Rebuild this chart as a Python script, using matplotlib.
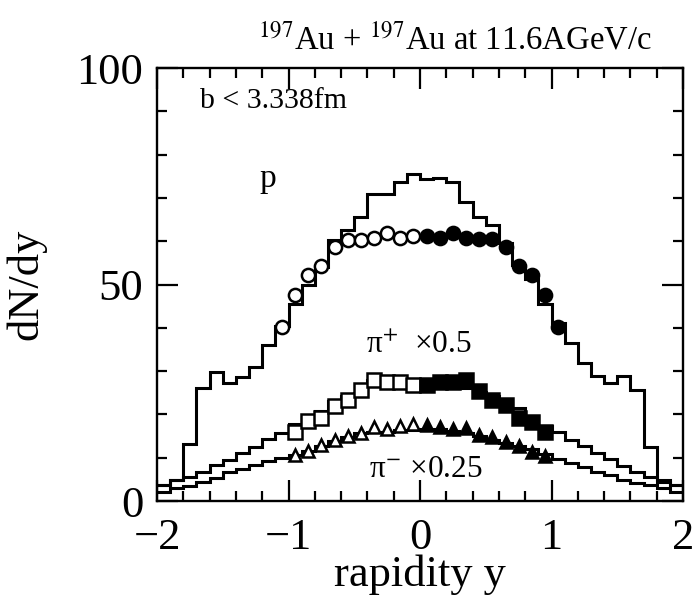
import numpy as np
import matplotlib
matplotlib.use("Agg")
import matplotlib.pyplot as plt

plt.rcParams['font.family'] = ['Liberation Serif', 'DejaVu Serif']
plt.rcParams['mathtext.fontset'] = 'stix'

# bin edges of the model histograms
edges = np.round(np.arange(-2.0, 2.0001, 0.1), 2)

# model (histograms), one value per bin from y=-2 to y=2
proton_model = [3.7, 4.8, 13.1, 26.0, 29.8, 27.3, 28.6, 30.9, 36.0, 40.5,
                45.4, 49.8, 54.0, 60.4, 62.6, 65.7, 70.8, 70.8, 73.7, 75.6,
                74.3, 74.5, 73.6, 69.0, 65.7, 63.8, 59.6, 54.6, 51.3, 45.5,
                41.1, 36.6, 31.9, 28.9, 27.3, 28.8, 25.7, 12.5, 4.8, 3.7]
pip_model = [3.7, 4.8, 5.6, 6.8, 8.3, 9.4, 11.1, 12.5, 14.4, 15.7,
             17.7, 19.2, 20.8, 23.0, 24.2, 25.0, 28.0, 27.8, 27.6, 27.3,
             27.3, 27.2, 27.2, 26.0, 25.2, 24.3, 22.6, 21.4, 19.4, 17.3,
             16.0, 14.1, 12.7, 11.1, 9.6, 8.1, 6.8, 5.5, 4.4, 3.7]
pim_model = [2.1, 2.9, 3.4, 4.5, 5.4, 6.6, 7.3, 8.4, 9.3, 10.0,
             10.6, 11.6, 12.8, 13.9, 14.8, 15.6, 16.0, 16.0, 16.5, 16.5,
             16.7, 16.7, 16.1, 15.6, 15.0, 14.2, 13.4, 12.8, 12.0, 10.8,
             9.8, 8.7, 7.8, 6.8, 6.0, 4.8, 4.2, 3.7, 2.9, 2.1]

# data points: open = measured (y<0), filled = reflected (y>0)
p_y_open = [-1.05, -0.95, -0.85, -0.75, -0.65, -0.55, -0.45, -0.35, -0.25, -0.15, -0.05]
p_open = [40.3, 47.6, 52.3, 54.2, 58.6, 60.4, 60.4, 60.8, 61.8, 60.7, 61.2]
p_y_fill = [0.05, 0.15, 0.25, 0.35, 0.45, 0.55, 0.65, 0.75, 0.85, 0.95, 1.05]
p_fill = [61.2, 60.7, 61.9, 60.8, 60.5, 60.5, 58.6, 54.2, 52.2, 47.5, 40.3]

pi_y_open = [-0.95, -0.85, -0.75, -0.65, -0.55, -0.45, -0.35, -0.25, -0.15, -0.05]
pi_y_fill = [0.05, 0.15, 0.25, 0.35, 0.45, 0.55, 0.65, 0.75, 0.85, 0.95]
pip_open = [16.0, 18.4, 19.2, 21.9, 23.3, 25.6, 27.9, 27.5, 27.5, 26.7]
pip_fill = [26.9, 27.6, 27.5, 27.9, 25.5, 23.4, 22.1, 19.1, 18.3, 15.9]
pim_open = [10.7, 11.5, 13.0, 14.0, 15.0, 15.8, 17.2, 16.6, 17.4, 17.9]
pim_fill = [17.5, 17.0, 16.6, 16.9, 15.2, 14.8, 13.6, 12.7, 11.4, 10.5]

fig = plt.figure(figsize=(6.97, 5.97), dpi=100)
ax = fig.add_axes([0.2253, 0.1608, 0.7547, 0.7252])

lw = 2.2
for vals in (proton_model, pip_model, pim_model):
    ax.stairs(vals, edges, color='black', linewidth=lw, baseline=None)

ms = 9.5
mew = 1.8
ax.plot(p_y_open, p_open, 'o', ms=ms, mfc='white', mec='black', mew=mew)
ax.plot(p_y_fill, p_fill, 'o', ms=ms, mfc='black', mec='black', mew=mew)
ax.plot(pi_y_open, pip_open, 's', ms=ms, mfc='white', mec='black', mew=mew)
ax.plot(pi_y_fill, pip_fill, 's', ms=ms, mfc='black', mec='black', mew=mew)
ax.plot(pi_y_open, pim_open, '^', ms=8, mfc='white', mec='black', mew=mew)
ax.plot(pi_y_fill, pim_fill, '^', ms=8, mfc='black', mec='black', mew=mew)

ax.set_xlim(-2, 2)
ax.set_ylim(0, 100)
ax.set_xticks([-2, -1, 0, 1, 2])
ax.set_xticklabels(['\u22122', '\u22121', '0', '1', '2'])
ax.set_xticks(np.arange(-2, 2.01, 0.2), minor=True)
ax.set_yticks([0, 50, 100])
ax.set_yticks(np.arange(0, 101, 10), minor=True)
ax.tick_params(which='both', direction='in', top=True, right=True, width=1.6, labelsize=32)
ax.tick_params(which='major', length=15)
ax.tick_params(axis='x', which='major', pad=12)
ax.tick_params(axis='y', which='major', pad=10)
ax.tick_params(which='minor', length=7)
for s in ax.spines.values():
    s.set_linewidth(1.7)

ax.set_xlabel('rapidity y', fontsize=32, labelpad=-2)
ax.set_ylabel('dN/dy', fontsize=32)
ax.yaxis.set_label_coords(-0.21, 0.5)

ax.text(-1.67, 92.4, 'b < 3.338fm', fontsize=21.5, va='center', ha='left')
ax.text(-1.16, 74.5, 'p', fontsize=24, va='center', ha='center')
ax.text(-0.41, 36.0, 'π$^{+}$  ×0.5', fontsize=22.5, va='center', ha='left')
ax.text(-0.39, 7.3, 'π$^{-}$ ×0.25', fontsize=22.5, va='center', ha='left')

fig.text(0.653, 0.933, r'$^{197}$Au + $^{197}$Au at 11.6AGeV/c', fontsize=23.5,
         ha='center', va='center')

fig.savefig('out.png', dpi=100)
